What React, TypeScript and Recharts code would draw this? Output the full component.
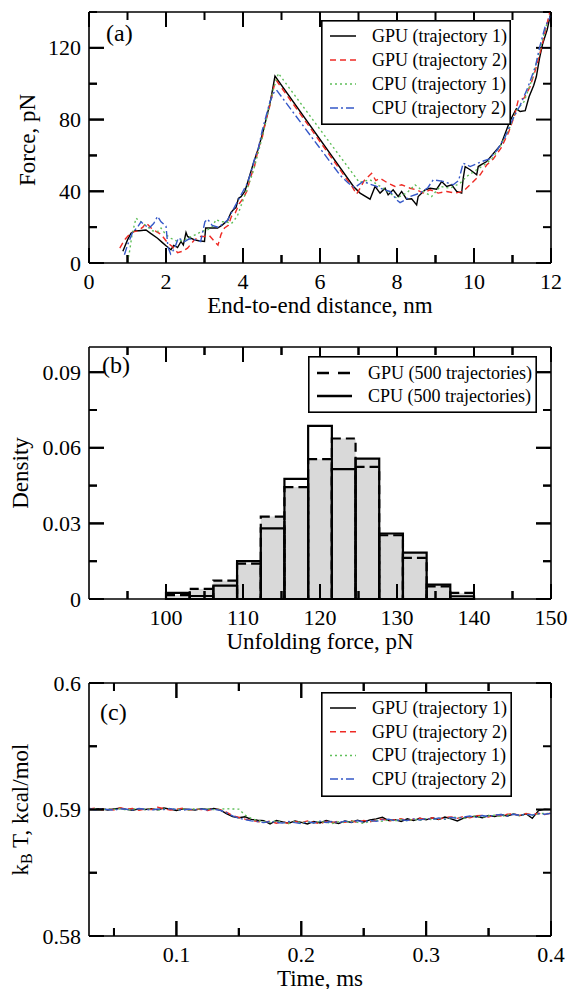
import React from 'react';
import { ComposedChart, Line, XAxis, YAxis, ReferenceArea, ReferenceLine, Legend } from 'recharts';

const FONT = '"Liberation Serif", "Times New Roman", Times, serif';

// ---------------- Panel (a): force vs end-to-end distance ----------------
const distTicks = [0, 1, 2, 3, 4, 5, 6, 7, 8, 9, 10, 11, 12];
const distMajor = [0, 2, 4, 6, 8, 10, 12];
const forceTicks = [0, 20, 40, 60, 80, 100, 120, 140];
const forceMajor = [0, 40, 80, 120];

const gpuTraj1: [number, number][] = [
  [0.88, 6.5], [1.0, 12.9], [1.09, 16.6], [1.2, 18], [1.3, 18], [1.48, 18.4], [1.6, 16.5], [1.78, 13.8],
  [1.9, 11.5], [2.0, 9.6], [2.13, 7.4], [2.2, 9.8], [2.26, 9.2], [2.3, 8.6], [2.39, 12], [2.45, 10],
  [2.52, 17], [2.56, 14.8], [2.65, 13.8], [2.74, 12.9], [2.85, 12.4], [3.0, 12], [3.03, 19.5], [3.17, 19.5],
  [3.34, 19.5], [3.45, 21], [3.6, 23.7], [3.69, 28.3], [3.75, 29.7], [3.82, 31], [3.88, 36], [3.95, 37],
  [4.05, 40], [4.15, 47], [4.27, 55.7], [4.4, 64], [4.53, 74], [4.62, 82], [4.7, 89], [4.77, 97],
  [4.83, 104.3], [6.87, 42.7], [7.04, 39], [7.3, 35.6], [7.43, 42.7], [7.56, 39], [7.69, 41.7], [7.77, 38],
  [7.9, 40.8], [8.03, 37.1], [8.12, 39.9], [8.25, 35.6], [8.38, 35.8], [8.51, 32.4], [8.55, 37.1], [8.73, 40.8],
  [8.86, 41.7], [9.03, 41.2], [9.16, 45.4], [9.29, 42.7], [9.42, 43.6], [9.55, 39.9], [9.68, 39], [9.72, 47.3],
  [9.77, 53.8], [9.9, 52], [10.07, 49.2], [10.11, 53.8], [10.2, 55], [10.33, 56.6], [10.5, 61], [10.7, 66],
  [10.91, 77.9], [11.0, 82], [11.1, 86], [11.2, 84.5], [11.33, 85], [11.43, 92.7], [11.55, 99], [11.62, 104],
  [11.7, 114], [11.78, 122], [11.9, 130], [12.0, 140],
];
const gpuTraj2: [number, number][] = [
  [0.8, 8.3], [0.92, 12.8], [1.09, 17], [1.27, 18], [1.4, 20], [1.48, 22.4], [1.61, 19.6], [1.75, 17.5],
  [1.87, 16], [2.04, 11.3], [2.17, 9.1], [2.3, 5.8], [2.42, 6.5], [2.56, 8.3], [2.74, 12.9], [2.87, 14.8],
  [3.0, 14.8], [3.12, 15.5], [3.26, 12], [3.35, 10], [3.43, 16], [3.52, 19.5], [3.62, 21], [3.7, 26],
  [3.8, 28], [3.9, 33], [4.0, 36], [4.1, 40], [4.2, 48], [4.3, 54], [4.4, 64], [4.5, 70],
  [4.6, 80], [4.7, 88], [4.8, 98], [4.86, 102], [6.83, 42.7], [6.95, 38.5], [7.05, 42], [7.15, 46],
  [7.34, 50], [7.45, 46], [7.56, 47.3], [7.77, 44.5], [7.95, 42.7], [8.12, 43.6], [8.34, 41.7], [8.51, 40.8],
  [8.68, 39], [8.86, 40.8], [9.07, 39], [9.29, 39.9], [9.51, 39], [9.72, 40], [9.94, 44.5], [10.16, 49.2],
  [10.33, 54.7], [10.5, 58], [10.7, 64], [10.9, 73], [11.05, 82], [11.15, 91], [11.3, 92], [11.45, 98],
  [11.6, 108], [11.75, 120], [11.88, 132], [11.97, 140],
];
const cpuTraj1: [number, number][] = [
  [1.0, 0.5], [1.05, 6], [1.12, 16], [1.22, 25], [1.35, 23], [1.5, 20.5], [1.65, 18], [1.78, 17.4],
  [1.87, 19.5], [2.0, 15.7], [2.13, 13.8], [2.3, 12], [2.48, 12.9], [2.65, 14.8], [2.8, 16], [2.91, 17.6],
  [3.08, 18.5], [3.21, 20.5], [3.3, 24.2], [3.43, 23], [3.56, 23], [3.7, 22], [3.85, 26], [3.95, 32],
  [4.05, 38], [4.15, 44], [4.25, 50], [4.35, 58], [4.5, 70], [4.65, 84], [4.8, 98], [4.92, 105.8],
  [7.02, 45], [7.3, 46.4], [7.64, 41.7], [7.99, 36.2], [8.25, 39], [8.47, 43.6], [8.68, 40], [8.9, 37.1],
  [9.12, 42.7], [9.38, 41.7], [9.64, 44.5], [9.81, 48.3], [10.07, 52], [10.33, 55.7], [10.5, 59], [10.7, 66],
  [10.9, 74], [11.1, 85], [11.3, 90], [11.5, 102], [11.7, 118], [11.9, 134],
];
const cpuTraj2: [number, number][] = [
  [0.92, 4.6], [1.0, 10], [1.13, 17], [1.26, 20], [1.35, 23], [1.45, 21], [1.57, 19.6], [1.68, 22],
  [1.78, 26], [1.87, 23], [2.0, 20.5], [2.05, 9], [2.12, 5], [2.22, 8], [2.32, 14], [2.49, 12],
  [2.6, 13.5], [2.75, 13], [2.9, 12], [3.01, 23], [3.08, 24.5], [3.2, 21], [3.35, 20], [3.5, 22],
  [3.6, 24], [3.7, 28], [3.8, 32], [3.9, 36], [4.0, 40], [4.1, 44], [4.2, 50], [4.3, 58],
  [4.4, 64], [4.5, 74], [4.6, 82], [4.7, 90], [4.8, 95], [4.87, 96.5], [6.52, 49], [6.74, 44.5],
  [6.9, 42], [7.12, 45.5], [7.3, 44], [7.47, 42.7], [7.65, 41], [7.82, 39.9], [8.0, 35], [8.08, 33.7],
  [8.2, 35], [8.34, 37.1], [8.6, 39], [8.8, 42], [8.94, 46.4], [9.2, 45.5], [9.46, 43.6], [9.6, 46],
  [9.72, 55.7], [9.9, 53.8], [10.2, 56.6], [10.4, 58], [10.6, 63], [10.8, 70], [11.0, 80], [11.2, 88],
  [11.4, 98], [11.6, 110], [11.7, 120], [11.85, 132], [12.0, 138],
];
const trajNames = ['GPU (trajectory 1)', 'GPU (trajectory 2)', 'CPU (trajectory 1)', 'CPU (trajectory 2)'];

// ---------------- Panel (b): histogram of unfolding forces ----------------
const binEdges = [100, 103.08, 106.15, 109.23, 112.31, 115.38, 118.46, 121.54, 124.62, 127.69, 130.77, 133.85, 136.92, 140];
const gpuDensity = [0.0015, 0.004, 0.0073, 0.014, 0.0327, 0.0444, 0.0555, 0.0637, 0.0524, 0.0253, 0.0163, 0.005, 0.0024];
const cpuDensity = [0.0024, 0.0012, 0.0053, 0.015, 0.028, 0.0477, 0.0687, 0.0515, 0.0557, 0.026, 0.0184, 0.0057, 0.0011];
const shadedDensity = [0.0015, 0.004, 0.0073, 0.014, 0.0327, 0.0444, 0.0555, 0.0637, 0.0557, 0.026, 0.0184, 0.0057, 0.0024];
const unfoldTicks = [95, 100, 105, 110, 115, 120, 125, 130, 135, 140, 145, 150];
const unfoldMajor = [100, 110, 120, 130, 140, 150];
const densityTicks = [0, 0.015, 0.03, 0.045, 0.06, 0.075, 0.09];
const densityMajor = [0, 0.03, 0.06, 0.09];
const histNames = ['GPU (500 trajectories)', 'CPU (500 trajectories)'];

// ---------------- Panel (c): kBT vs time ----------------
const times = [
  0.03, 0.035, 0.04, 0.045, 0.05, 0.055, 0.06, 0.065, 0.07, 0.075,
  0.08, 0.085, 0.09, 0.095, 0.1, 0.105, 0.11, 0.115, 0.12, 0.125,
  0.13, 0.135, 0.14, 0.145, 0.15, 0.155, 0.16, 0.165, 0.17, 0.175,
  0.18, 0.185, 0.19, 0.195, 0.2, 0.205, 0.21, 0.215, 0.22, 0.225,
  0.23, 0.235, 0.24, 0.245, 0.25, 0.255, 0.26, 0.265, 0.27, 0.275,
  0.28, 0.285, 0.29, 0.295, 0.3, 0.305, 0.31, 0.315, 0.32, 0.325,
  0.33, 0.335, 0.34, 0.345, 0.35, 0.355, 0.36, 0.365, 0.37, 0.375,
  0.38, 0.385, 0.39, 0.395, 0.4,
];
const kbtGpu1 = [
  0.59008, 0.59003, 0.59006, 0.58996, 0.59004, 0.5901, 0.59001, 0.58994, 0.59005, 0.59,
  0.59007, 0.58997, 0.59012, 0.59003, 0.58992, 0.59005, 0.59001, 0.58995, 0.59007, 0.59,
  0.59009, 0.58996, 0.58968, 0.58945, 0.58935, 0.58942, 0.58922, 0.58915, 0.58912, 0.58885,
  0.58913, 0.58902, 0.58892, 0.5891, 0.58898, 0.58886, 0.58906, 0.58894, 0.58914, 0.589,
  0.5889, 0.5891, 0.58898, 0.58916, 0.58902, 0.58918, 0.58926, 0.58938, 0.58912, 0.5892,
  0.58906, 0.58926, 0.58912, 0.5893, 0.58918, 0.58934, 0.5892, 0.5894, 0.58926, 0.5891,
  0.58932, 0.58942, 0.58946, 0.58934, 0.58952, 0.58944, 0.5896, 0.58948, 0.58964, 0.58952,
  0.58966, 0.5893, 0.58992, 0.59002, 0.59,
];
const kbtGpu2 = [
  0.59004, 0.5901, 0.58998, 0.59006, 0.58996, 0.59014, 0.59002, 0.59008, 0.58994, 0.59004,
  0.59, 0.59018, 0.59006, 0.58996, 0.59002, 0.5901, 0.58996, 0.59004, 0.59, 0.58992,
  0.59006, 0.58998, 0.5898, 0.58952, 0.58938, 0.58924, 0.58914, 0.58905, 0.58898, 0.58908,
  0.58892, 0.58902, 0.5889, 0.58906, 0.58895, 0.5891, 0.58898, 0.58888, 0.58906, 0.58896,
  0.58908, 0.58898, 0.58912, 0.58896, 0.58914, 0.58902, 0.58916, 0.58924, 0.58908, 0.5892,
  0.58928, 0.58912, 0.58924, 0.58932, 0.58916, 0.58934, 0.58922, 0.58938, 0.58942, 0.5893,
  0.58946, 0.58934, 0.5895, 0.58954, 0.5894, 0.58958, 0.58948, 0.58962, 0.58966, 0.58952,
  0.58968, 0.58958, 0.5897, 0.5896, 0.58972,
];
const kbtCpu1 = [
  0.59003, 0.59007, 0.58997, 0.59005, 0.59001, 0.59008, 0.58995, 0.59003, 0.59007, 0.59,
  0.59005, 0.58995, 0.59003, 0.59009, 0.58998, 0.59005, 0.58996, 0.59007, 0.59001, 0.59005,
  0.58999, 0.59003, 0.59006, 0.59004, 0.59003, 0.58955, 0.5893, 0.58912, 0.58906, 0.58898,
  0.5891, 0.58898, 0.5889, 0.58906, 0.58896, 0.58903, 0.58892, 0.58906, 0.58898, 0.5889,
  0.58904, 0.58896, 0.5891, 0.58898, 0.5889, 0.58908, 0.58914, 0.58906, 0.58918, 0.5891,
  0.58922, 0.5891, 0.58924, 0.58914, 0.58928, 0.58918, 0.58932, 0.58922, 0.58936, 0.5894,
  0.58928, 0.58942, 0.58948, 0.58938, 0.5895, 0.58954, 0.58944, 0.58958, 0.58962, 0.5895,
  0.58964, 0.58954, 0.58966, 0.5897, 0.58966,
];
const kbtCpu2 = [
  0.59006, 0.58998, 0.59004, 0.59, 0.58995, 0.59006, 0.59002, 0.58996, 0.59008, 0.59001,
  0.58995, 0.59005, 0.58999, 0.59007, 0.59001, 0.58994, 0.59003, 0.58999, 0.59005, 0.58996,
  0.59003, 0.58993, 0.58976, 0.5895, 0.58932, 0.5892, 0.5891, 0.58904, 0.58896, 0.58906,
  0.58898, 0.58892, 0.58906, 0.58896, 0.58888, 0.58904, 0.58894, 0.58908, 0.58897, 0.58906,
  0.58896, 0.58908, 0.58898, 0.58912, 0.589, 0.58914, 0.58906, 0.58918, 0.58924, 0.5891,
  0.5892, 0.58912, 0.58926, 0.58916, 0.5893, 0.5892, 0.58934, 0.58924, 0.58938, 0.5893,
  0.5894, 0.58948, 0.58938, 0.58952, 0.58944, 0.58956, 0.5896, 0.58948, 0.58962, 0.58954,
  0.58962, 0.58956, 0.58968, 0.58962, 0.5897,
];
const timeTicks = [0.05, 0.1, 0.15, 0.2, 0.25, 0.3, 0.35, 0.4];
const timeMajor = [0.1, 0.2, 0.3, 0.4];
const kbtTicks = [0.58, 0.585, 0.59, 0.595, 0.6];
const kbtMajor = [0.58, 0.59, 0.6];

// ---------------- styles ----------------
const traceStyles = [
  { color: '#000000', dash: undefined as string | undefined },
  { color: '#ee2a24', dash: '6 4' },
  { color: '#5fbf5a', dash: '2 3' },
  { color: '#3558c8', dash: '8 3 2 3' },
];
const FRAME = { stroke: '#000', strokeWidth: 1.6 };
const TW = 2;
const MAJOR_LEN = 15;
const MINOR_LEN = 8;

type Side = 'bottom' | 'top' | 'left' | 'right';
const isIn = (arr: number[], v: number) => arr.some((m) => Math.abs(m - v) < 1e-9);

function tickRenderer(side: Side, majors: number[], withLabels: boolean) {
  return (props: any) => {
    const x = Number(props.x);
    const y = Number(props.y);
    const v = Number(props.payload?.value);
    const major = isIn(majors, v);
    const len = major ? MAJOR_LEN : MINOR_LEN;
    let r = { x: 0, y: 0, w: 0, h: 0 };
    if (side === 'bottom') r = { x: x - TW / 2, y: y - len, w: TW, h: len };
    if (side === 'top') r = { x: x - TW / 2, y: y, w: TW, h: len };
    if (side === 'left') r = { x: x, y: y - TW / 2, w: len, h: TW };
    if (side === 'right') r = { x: x - len, y: y - TW / 2, w: len, h: TW };
    let label: React.ReactNode = null;
    if (withLabels && major) {
      if (side === 'bottom')
        label = (
          <text x={x} y={y + 18} textAnchor="middle" dominantBaseline="central" fontSize={22} fontFamily={FONT} fill="#000" stroke="none">
            {String(v)}
          </text>
        );
      if (side === 'left')
        label = (
          <text x={x - 8} y={y} textAnchor="end" dominantBaseline="central" fontSize={22} fontFamily={FONT} fill="#000" stroke="none">
            {String(v)}
          </text>
        );
    }
    return (
      <g>
        <rect x={r.x} y={r.y} width={r.w} height={r.h} fill="#000" />
        {label}
      </g>
    );
  };
}

// same inward tick marks, placed through the chart scales by reference lines
function tickMarks(xTicks: number[], xMajor: number[], yTicks: number[], yMajor: number[]) {
  const xs = xTicks.map((v) => {
    const len = isIn(xMajor, v) ? MAJOR_LEN : MINOR_LEN;
    return (
      <ReferenceLine
        key={'xm' + v}
        xAxisId="b"
        yAxisId="l"
        x={v}
        stroke="none"
        label={(p: any) => {
          const vb = p.viewBox || {};
          return (
            <g>
              <rect x={vb.x - TW / 2} y={vb.y + vb.height - len} width={TW} height={len} fill="#000" />
              <rect x={vb.x - TW / 2} y={vb.y} width={TW} height={len} fill="#000" />
            </g>
          );
        }}
      />
    );
  });
  const ys = yTicks.map((v) => {
    const len = isIn(yMajor, v) ? MAJOR_LEN : MINOR_LEN;
    return (
      <ReferenceLine
        key={'ym' + v}
        xAxisId="b"
        yAxisId="l"
        y={v}
        stroke="none"
        label={(p: any) => {
          const vb = p.viewBox || {};
          return (
            <g>
              <rect x={vb.x} y={vb.y - TW / 2} width={len} height={TW} fill="#000" />
              <rect x={vb.x + vb.width - len} y={vb.y - TW / 2} width={len} height={TW} fill="#000" />
            </g>
          );
        }}
      />
    );
  });
  return [...xs, ...ys];
}

function xLabel(text: string) {
  return (props: any) => {
    const vb = props.viewBox || {};
    return (
      <text x={vb.x + vb.width / 2} y={vb.y + 42} textAnchor="middle" dominantBaseline="central" fontSize={23} fontFamily={FONT} fill="#000">
        {text}
      </text>
    );
  };
}

function yLabel(content: React.ReactNode, cx: number, dyc: number, panel: string, px: number, py: number) {
  return (props: any) => {
    const vb = props.viewBox || {};
    const cy = vb.y + vb.height / 2 + dyc;
    return (
      <g>
        <text transform={`rotate(-90, ${cx}, ${cy})`} x={cx} y={cy} textAnchor="middle" dominantBaseline="central" fontSize={23} fontFamily={FONT} fill="#000">
          {content}
        </text>
        <text x={px} y={py} dominantBaseline="central" fontSize={24} fontFamily={FONT} fill="#000">
          {panel}
        </text>
      </g>
    );
  };
}

function traceLegend(w: number, h: number, rowGap: number, top: number) {
  return () => (
    <svg width={w} height={h} style={{ display: 'block' }}>
      <rect x={0.8} y={0.8} width={w - 1.6} height={h - 1.6} fill="#fff" stroke="#000" strokeWidth={1.6} />
      {trajNames.map((name, i) => (
        <g key={name}>
          <line x1={9} x2={35} y1={top + rowGap * i} y2={top + rowGap * i} stroke={traceStyles[i].color} strokeWidth={1.5} strokeDasharray={traceStyles[i].dash} />
          <text x={51} y={top + rowGap * i} dominantBaseline="central" fontSize={18} fontFamily={FONT} fill="#000">
            {name}
          </text>
        </g>
      ))}
    </svg>
  );
}

function histLegend() {
  const w = 229;
  const h = 57;
  return (
    <svg width={w} height={h} style={{ display: 'block' }}>
      <rect x={0.8} y={0.8} width={w - 1.6} height={h - 1.6} fill="#fff" stroke="#000" strokeWidth={1.6} />
      {histNames.map((name, i) => (
        <g key={name}>
          <line x1={9} x2={44} y1={17 + 23 * i} y2={17 + 23 * i} stroke="#000" strokeWidth={2.6} strokeDasharray={i === 0 ? '12 9' : undefined} />
          <text x={60} y={17 + 23 * i} dominantBaseline="central" fontSize={18} fontFamily={FONT} fill="#000">
            {name}
          </text>
        </g>
      ))}
    </svg>
  );
}

const toPts = (arr: [number, number][]) => arr.map(([x, f]) => ({ x, f }));
const trajs = [gpuTraj1, gpuTraj2, cpuTraj1, cpuTraj2].map(toPts);

const binRows = gpuDensity.map((g, i) => ({
  lo: binEdges[i],
  hi: binEdges[i + 1],
  mid: (binEdges[i] + binEdges[i + 1]) / 2,
  gpu: g,
  cpu: cpuDensity[i],
  shade: shadedDensity[i],
}));

const kbtRows = times.map((t, i) => ({ t, g1: kbtGpu1[i], g2: kbtGpu2[i], c1: kbtCpu1[i], c2: kbtCpu2[i] }));
const kbtKeys = ['g1', 'g2', 'c1', 'c2'];

const commonAxis = { tickLine: false, tickSize: 0, tickMargin: 0, interval: 0 as const, axisLine: FRAME };

function axesFor(
  xKey: string,
  yKey: string | undefined,
  xDomain: [number, number],
  xTicks: number[],
  xMajor: number[],
  yDomain: [number, number],
  yTicks: number[],
  yMajor: number[],
  topH: number,
  bottomH: number,
  xTitle: string,
  yLabelFn: any,
) {
  return [
    <XAxis key="xb" xAxisId="b" type="number" dataKey={xKey} domain={xDomain} ticks={xTicks} height={bottomH} tick={tickRenderer('bottom', xMajor, true)} label={xLabel(xTitle)} {...commonAxis} />,
    <XAxis key="xt" xAxisId="t" orientation="top" type="number" dataKey={xKey} domain={xDomain} ticks={xTicks} height={topH} tick={tickRenderer('top', xMajor, false)} {...commonAxis} />,
    <YAxis key="yl" yAxisId="l" type="number" dataKey={yKey} domain={yDomain} ticks={yTicks} width={89} tick={tickRenderer('left', yMajor, true)} label={yLabelFn} {...commonAxis} />,
    <YAxis key="yr" yAxisId="r" orientation="right" type="number" dataKey={yKey} domain={yDomain} ticks={yTicks} width={20} tick={tickRenderer('right', yMajor, false)} {...commonAxis} />,
  ];
}

function PanelA() {
  return (
    <ComposedChart width={571} height={330} margin={{ top: 0, right: 0, bottom: 0, left: 0 }}>
      {axesFor('x', undefined, [0, 12], distTicks, distMajor, [0, 140], forceTicks, forceMajor, 12, 67, 'End-to-end distance, nm', yLabel('Force, pN', 27, 2.5, '(a)', 106, 33))}
      {tickMarks(distTicks, distMajor, forceTicks, forceMajor)}
      {trajs.map((pts, i) => (
        <Line key={trajNames[i]} xAxisId="b" yAxisId="l" data={pts} dataKey="f" name={trajNames[i]} type="linear" dot={false} isAnimationActive={false} stroke={traceStyles[i].color} strokeWidth={1.4} strokeDasharray={traceStyles[i].dash} />
      ))}
      <Legend layout="vertical" align="center" verticalAlign="middle" wrapperStyle={{ position: 'absolute', left: 321, top: 20, width: 190, height: 105 }} content={traceLegend(190, 105, 24, 16)} />
    </ComposedChart>
  );
}

function PanelB() {
  return (
    <ComposedChart width={571} height={330} data={binRows} margin={{ top: 0, right: 0, bottom: 0, left: 0 }}>
      {axesFor('mid', 'cpu', [90, 150], unfoldTicks, unfoldMajor, [0, 0.1], densityTicks, densityMajor, 17, 61, 'Unfolding force, pN', yLabel('Density', 20, 0, '(b)', 102, 35))}
      {binRows.map((r, i) => (
        <ReferenceArea key={'s' + i} xAxisId="b" yAxisId="l" x1={r.lo} x2={r.hi} y1={0} y2={r.shade} fill="#d9d9d9" fillOpacity={1} stroke="none" />
      ))}
      {binRows.map((r, i) => (
        <ReferenceArea key={'g' + i} xAxisId="b" yAxisId="l" x1={r.lo} x2={r.hi} y1={0} y2={r.gpu} fill="none" fillOpacity={0} stroke="#000" strokeWidth={2.2} strokeDasharray="9 5" />
      ))}
      {binRows.map((r, i) => (
        <ReferenceArea key={'c' + i} xAxisId="b" yAxisId="l" x1={r.lo} x2={r.hi} y1={0} y2={r.cpu} fill="none" fillOpacity={0} stroke="#000" strokeWidth={2.2} />
      ))}
      {tickMarks(unfoldTicks, unfoldMajor, densityTicks, densityMajor)}
      <Legend layout="vertical" align="center" verticalAlign="middle" wrapperStyle={{ position: 'absolute', left: 308, top: 26, width: 229, height: 57 }} content={histLegend} />
    </ComposedChart>
  );
}

function PanelC() {
  const kbLabel = (
    <>
      k<tspan dy={6} fontSize={16}>B</tspan>
      <tspan dy={-6}> T, kcal/mol</tspan>
    </>
  );
  return (
    <ComposedChart width={571} height={329} data={kbtRows} margin={{ top: 0, right: 0, bottom: 0, left: 0 }}>
      {axesFor('t', undefined, [0.03, 0.4], timeTicks, timeMajor, [0.58, 0.6], kbtTicks, kbtMajor, 23, 53, 'Time, ms', yLabel(kbLabel, 20, 0, '(c)', 100, 52))}
      {tickMarks(timeTicks, timeMajor, kbtTicks, kbtMajor)}
      {kbtKeys.map((k, i) => (
        <Line key={k} xAxisId="b" yAxisId="l" dataKey={k} name={trajNames[i]} type="linear" dot={false} isAnimationActive={false} stroke={traceStyles[i].color} strokeWidth={1.4} strokeDasharray={traceStyles[i].dash} />
      ))}
      <Legend layout="vertical" align="center" verticalAlign="middle" wrapperStyle={{ position: 'absolute', left: 321, top: 32, width: 191, height: 105 }} content={traceLegend(191, 105, 23.7, 16)} />
    </ComposedChart>
  );
}

export default function App() {
  return (
    <div style={{ position: 'absolute', left: 0, top: 0, width: 571, height: 989, background: '#fff', fontFamily: FONT }}>
      <div style={{ position: 'absolute', left: 0, top: 0 }}>
        <PanelA />
      </div>
      <div style={{ position: 'absolute', left: 0, top: 330 }}>
        <PanelB />
      </div>
      <div style={{ position: 'absolute', left: 0, top: 660 }}>
        <PanelC />
      </div>
    </div>
  );
}
